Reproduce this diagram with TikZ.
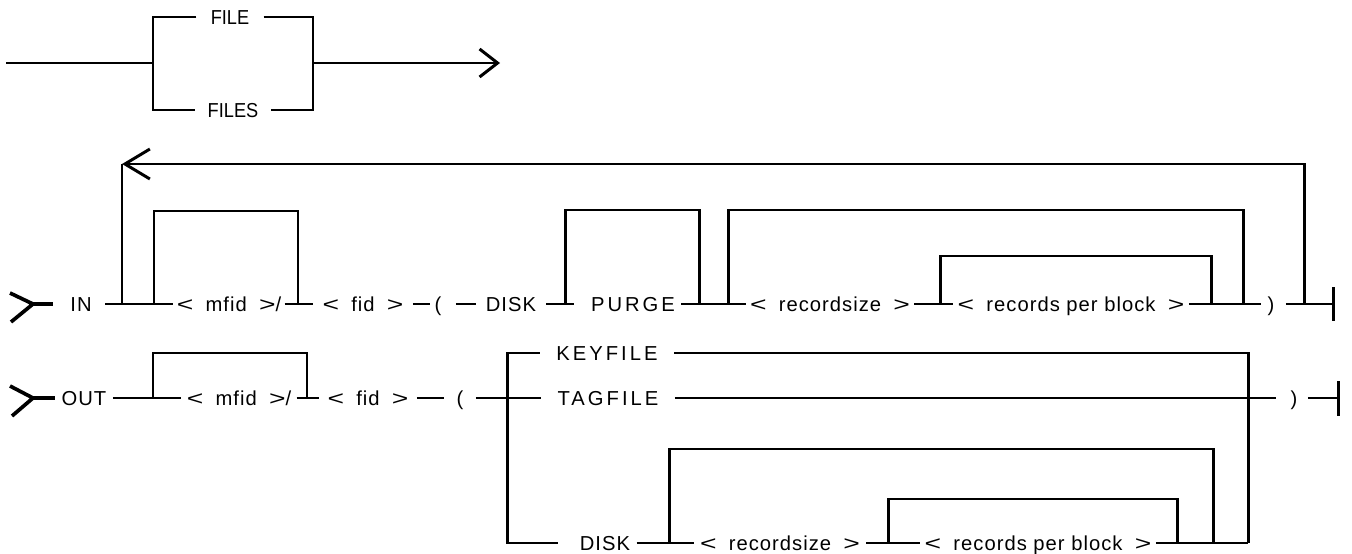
\documentclass[tikz,border=0pt]{standalone}
\usepackage{fontspec}
\usepackage{graphicx}
\usetikzlibrary{arrows.meta}
\newfontfamily\df[LetterSpace=5]{Liberation Sans}
\newfontfamily\dfw[LetterSpace=15]{Liberation Sans}
\newfontfamily\dfn[FakeStretch=0.9]{Liberation Sans}
\newcommand\LT{\scalebox{1.4}[1]{<}\hspace{7pt}}
\newcommand\GT{\hspace{7pt}\scalebox{1.4}[1]{>}}
\tikzset{
  ln/.style={line width=1.7pt},
  t/.style={font=\fontsize{11.5}{13}\df, inner ysep=0pt, text height=8.2pt, text depth=0pt, inner xsep=#1, anchor=center},
  t/.default=0.1cm,
  tw/.style={t=#1, font=\fontsize{11.5}{13}\dfw},
  tn/.style={t=#1, font=\fontsize{11.5}{13}\dfn},
  entry/.style={line width=2.1pt},
  fwd/.style={-{Straight Barb[length=0.36cm,width=0.56cm]}},
  back/.style={-{Straight Barb[length=0.5cm,width=0.6cm]}}
}
\begin{document}
\begin{tikzpicture}[x=0.02cm,y=-0.02cm,ln]
\fill[white] (0,0) rectangle (1352,554);
\useasboundingbox (0,0) rectangle (1352,554);

% ---------- top: FILE / FILES ----------
\node[tn=0.26cm] (file) at (230,17) {FILE};
\node[tn=0.22cm] (files) at (233,110) {FILES};
\coordinate (s0) at (6,63);
\coordinate (j1) at (153,63);
\coordinate (j2) at (313,63);
\coordinate (aend) at (500,63);
\draw (s0) -- (j1);
\draw (file.west) -| (j1) |- (files.west);
\draw (file.east) -| (j2) |- (files.east);
\draw[fwd] (j2) -- (aend);

% ---------- IN row ----------
\coordinate (inA) at (10,293);
\coordinate (inT) at (33,304);
\coordinate (inB) at (11,322);
\coordinate (inS) at (53,304);
\draw[entry] (inA) -- (inT) -- (inB);
\draw[entry] (inT) -- (inS);

\node[t=0.24cm] (in) at (81,304) {IN};
\node[t=0.04cm] (mfidA) at (229,304) {\LT mfid\GT/};
\node[t=0.16cm] (fidA) at (363,304) {\LT fid\GT};
\node[t=0.06cm] (lpA) at (438,304) {(};
\node[t=0.17cm] (diskA) at (511,304) {DISK};
\node[tw=0.1cm] (purge) at (633,304) {PURGE};
\node[t=0.06cm] (rsA) at (830,304) {\LT recordsize\GT};
\node[t=0.06cm] (rpbA) at (1071,304) {\LT records per block\GT};
\node[t=0.1cm] (rpA) at (1271,304) {)};

\coordinate (loopL) at (122,304);
\coordinate (loopTL) at (122,164);
\coordinate (loopR) at (1304,304);
\coordinate (b1L) at (154,304);
\coordinate (b1R) at (298,304);
\coordinate (b2L) at (565,304);
\coordinate (b2R) at (699,304);
\coordinate (b3L) at (728,304);
\coordinate (b3R) at (1243,304);
\coordinate (b4L) at (940,304);
\coordinate (b4R) at (1211,304);
\coordinate (endIn) at (1333,304);
\coordinate (eInT) at (1333,287);
\coordinate (eInB) at (1333,321);

\draw (in.east) -- (mfidA.west);
\draw (mfidA.east) -- (fidA.west);
\draw (fidA.east) -- (lpA.west);
\draw[shorten <=0.2cm] (lpA.east) -- (diskA.west);
\draw[shorten >=0.22cm] (diskA.east) -- (purge.west);
\draw (purge.east) -- (rsA.west);
\draw (rsA.east) -- (rpbA.west);
\draw (rpbA.east) -- (rpA.west);
\draw[shorten <=0.1cm] (rpA.east) -- (endIn);
\draw (eInT) -- (eInB);

\draw (loopL) -- (loopTL);
\draw[back] (loopR) |- (loopTL);
\draw (b1L) -- ++(0,-93) -| (b1R);
\draw (b2L) -- ++(0,-94) -| (b2R);
\draw (b3L) -- ++(0,-94) -| (b3R);
\draw (b4L) -- ++(0,-48) -| (b4R);

% ---------- OUT row ----------
\coordinate (outA) at (10,386);
\coordinate (outT) at (33,398);
\coordinate (outB) at (12,416);
\coordinate (outS) at (55,398);
\draw[entry] (outA) -- (outT) -- (outB);
\draw[entry] (outT) -- (outS);

\node[t=0.1cm] (out) at (84,398) {OUT};
\node[t=0.08cm] (mfidB) at (239,398) {\LT mfid\GT/};
\node[t=0.14cm] (fidB) at (368,398) {\LT fid\GT};
\node[t=0.22cm] (lpB) at (460,398) {(};
\node[tw=0.3cm] (keyfile) at (607,353) {KEYFILE};
\node[tw=0.3cm] (tagfile) at (608,398) {TAGFILE};
\node[t=0.18cm] (rpB) at (1294,398) {)};
\node[t=0.1cm] (diskB) at (605,543) {DISK};
\node[t=0.1cm] (rsB) at (780,543) {\LT recordsize\GT};
\node[t=0.06cm] (rpbB) at (1038,543) {\LT records per block\GT};

\coordinate (c1L) at (153,398);
\coordinate (c1R) at (307,398);
\coordinate (bl) at (507,543);
\coordinate (br) at (1248,543);
\coordinate (d1L) at (669,543);
\coordinate (d1R) at (1213,543);
\coordinate (d2L) at (888,543);
\coordinate (d2R) at (1177,543);
\coordinate (endOut) at (1338,398);
\coordinate (eOutT) at (1338,381);
\coordinate (eOutB) at (1338,416);

\draw (out.east) -- (mfidB.west);
\draw (c1L) -- ++(0,-45) -| (c1R);
\draw (mfidB.east) -- (fidB.west);
\draw (fidB.east) -- (lpB.west);
\draw (lpB.east) -- (tagfile.west);
\draw[shorten >=0.3cm] (keyfile.west) -| (bl) -- (diskB.west);
\draw (keyfile.east) -| (br);
\draw (rpbB.east) -- (br);
\draw[shorten >=0.08cm] (tagfile.east) -- (rpB.west);
\draw (rpB.east) -- (endOut);
\draw (eOutT) -- (eOutB);

\draw (diskB.east) -- (rsB.west);
\draw (rsB.east) -- (rpbB.west);
\draw (d1L) -- ++(0,-94) -| (d1R);
\draw (d2L) -- ++(0,-44) -| (d2R);
\end{tikzpicture}
\end{document}
